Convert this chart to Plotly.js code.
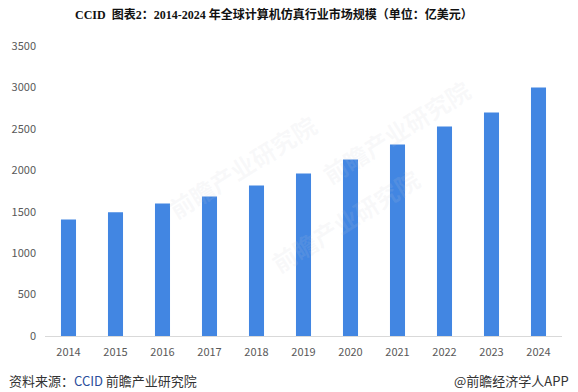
<!DOCTYPE html>
<html>
<head>
<meta charset="utf-8">
<script src="https://cdn.plot.ly/plotly-3.0.1.min.js"></script>
<style>
html,body{margin:0;padding:0;background:#fff;}
#chart{width:578px;height:392px;}
</style>
</head>
<body>
<div id="chart"></div>
<script>
const years = ["2014","2015","2016","2017","2018","2019","2020","2021","2022","2023","2024"];
const marketSize = [1405, 1494, 1599, 1684, 1816, 1961, 2130, 2311, 2528, 2697, 2999];
const yTicks = [0, 500, 1000, 1500, 2000, 2500, 3000, 3500];

const titleText = "CCID  图表2：2014-2024 年全球计算机仿真行业市场规模（单位：亿美元）";
const sourceText = "资料来源：<span style='color:#2a4d9b'>CCID</span> 前瞻产业研究院";
const brandText = "@前瞻经济学人APP";
const watermarkText = "前瞻产业研究院";

const trace = {
  type: "bar",
  x: years,
  y: marketSize,
  marker: {color: "#4286e2"},
  width: 0.32,
  hoverinfo: "x+y"
};

const wm = (x, y) => ({
  xref: "paper", yref: "paper", x: x, y: y,
  text: watermarkText, showarrow: false, textangle: -32,
  font: {family: "Noto Sans CJK SC", size: 24, color: "rgba(200,204,214,0.13)", weight: 700}
});

const layout = {
  width: 578, height: 392,
  margin: {l: 45, r: 16, t: 46, b: 55.5},
  paper_bgcolor: "#fff", plot_bgcolor: "#fff",
  showlegend: false,
  bargap: 0.68,
  xaxis: {
    type: "category",
    showgrid: false, zeroline: false,
    showline: true, linecolor: "#d9d9d9", linewidth: 1,
    ticks: "", ticklabelstandoff: 6,
    tickfont: {family: "Noto Sans CJK SC, Open Sans, sans-serif", size: 11, color: "#595959"}
  },
  yaxis: {
    range: [0, 3500],
    tickvals: yTicks,
    showgrid: false, zeroline: false, showline: false,
    ticks: "", ticklabelstandoff: 8,
    tickfont: {family: "Noto Sans CJK SC, Open Sans, sans-serif", size: 11, color: "#595959"}
  },
  annotations: [
    {xref: "paper", yref: "paper", x: (274-45)/517, y: 1 + (46-14)/290.5,
     xanchor: "center", yanchor: "middle", showarrow: false,
     text: "<b>" + titleText + "</b>",
     font: {family: "Liberation Serif, Noto Sans CJK SC, serif", size: 12, color: "#111"}},
    {xref: "paper", yref: "paper", x: (7-45)/517, y: -(381-336.5)/290.5,
     xanchor: "left", yanchor: "middle", showarrow: false,
     text: sourceText,
     font: {family: "Noto Sans CJK SC, sans-serif", size: 13, color: "#333"}},
    {xref: "paper", yref: "paper", x: (571-45)/517, y: -(381-336.5)/290.5,
     xanchor: "right", yanchor: "middle", showarrow: false,
     text: brandText,
     font: {family: "Noto Sans CJK SC, sans-serif", size: 13, color: "#333"}},
    wm(0.22, 0.80), wm(0.58, 0.40), wm(0.84, 0.92)
  ]
};

Plotly.newPlot("chart", [trace], layout, {displayModeBar: false, staticPlot: true});
</script>
</body>
</html>
